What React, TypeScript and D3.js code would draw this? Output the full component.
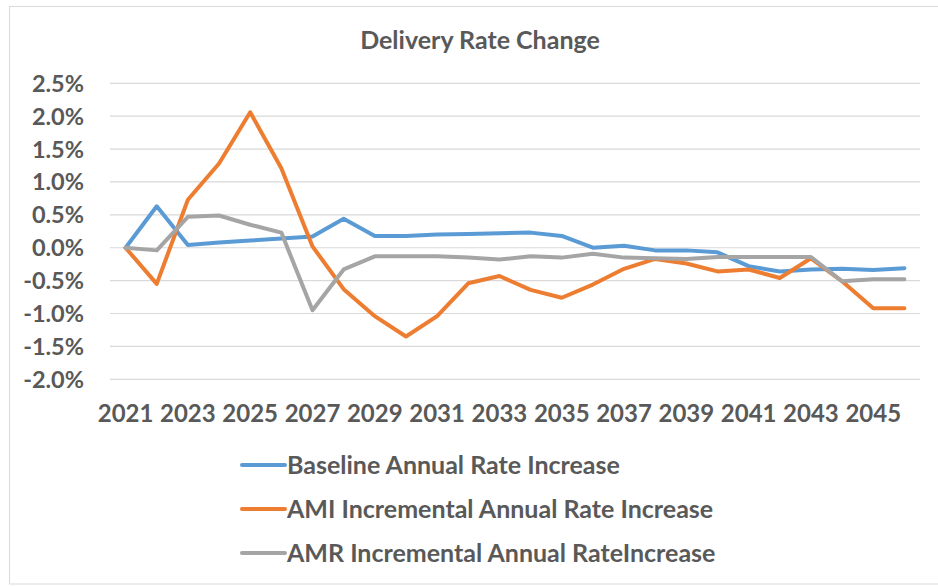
import React from "react";
import * as d3 from "d3";

const years = [
  2021, 2022, 2023, 2024, 2025, 2026, 2027, 2028, 2029, 2030, 2031, 2032, 2033,
  2034, 2035, 2036, 2037, 2038, 2039, 2040, 2041, 2042, 2043, 2044, 2045, 2046,
];
const xTickLabels = [2021, 2023, 2025, 2027, 2029, 2031, 2033, 2035, 2037, 2039, 2041, 2043, 2045];
const yTicks = [-2.0, -1.5, -1.0, -0.5, 0.0, 0.5, 1.0, 1.5, 2.0, 2.5];

const baseline = [
  0, 0.63, 0.04, 0.08, 0.11, 0.14, 0.17, 0.44, 0.18, 0.18, 0.2, 0.21, 0.22,
  0.23, 0.18, 0.0, 0.03, -0.04, -0.04, -0.07, -0.28, -0.36, -0.33, -0.32, -0.34, -0.31,
];
const ami = [
  0, -0.55, 0.73, 1.28, 2.06, 1.21, 0.02, -0.63, -1.04, -1.35, -1.04, -0.54, -0.43,
  -0.64, -0.76, -0.56, -0.32, -0.17, -0.24, -0.36, -0.33, -0.46, -0.16, -0.51, -0.92, -0.92,
];
const amr = [
  0, -0.04, 0.47, 0.49, 0.35, 0.23, -0.95, -0.33, -0.13, -0.13, -0.13, -0.15, -0.18,
  -0.13, -0.15, -0.09, -0.15, -0.16, -0.17, -0.14, -0.14, -0.14, -0.14, -0.51, -0.48, -0.48,
];

const seriesNames = [
  "Baseline Annual Rate Increase",
  "AMI Incremental Annual Rate Increase",
  "AMR Incremental Annual RateIncrease",
];
const seriesColors = ["#5B9BD5", "#ED7D31", "#A5A5A5"];
const seriesValues = [baseline, ami, amr];

const FONT = "Lato, 'Open Sans', sans-serif";
const TEXT = "#595959";

const fmtPct = (t: number) => d3.format(".1f")(t).replace("\u2212", "-") + "%";

export default function App() {
  const x = d3
    .scaleBand<number>()
    .domain(years)
    .range([110, 920]);
  const y = d3.scaleLinear().domain([-2.0, 2.5]).range([379.3, 83.3]);
  const cx = (yr: number) => (x(yr) as number) + x.bandwidth() / 2;

  const line = d3
    .line<number>()
    .x((_, i) => cx(years[i]))
    .y((v) => y(v));

  return (
    <svg
      width={938}
      height={586}
      style={{ position: "absolute", left: 0, top: 0, background: "#fff" }}
    >
      <rect x={9.5} y={6.5} width={940} height={577.5} fill="#fff" stroke="#d9d9d9" strokeWidth={1} />
      <text
        x={480}
        y={40}
        dy="0.36em"
        textAnchor="middle"
        fontFamily={FONT}
        fontWeight="bold"
        fontSize={25}
        fill={TEXT}
      >
        Delivery Rate Change
      </text>

      {yTicks.map((t) => (
        <g key={t}>
          <line x1={110} x2={920} y1={y(t)} y2={y(t)} stroke="#d9d9d9" strokeWidth={1.2} />
          <text
            x={84}
            y={y(t)}
            dy="0.36em"
            textAnchor="end"
            fontFamily={FONT}
            fontWeight="bold"
            fontSize={23.5}
            fill={TEXT}
          >
            {fmtPct(t)}
          </text>
        </g>
      ))}

      {xTickLabels.map((yr) => (
        <text
          key={yr}
          x={cx(yr)}
          y={413}
          dy="0.36em"
          textAnchor="middle"
          fontFamily={FONT}
          fontWeight="bold"
          fontSize={24}
          fill={TEXT}
        >
          {yr}
        </text>
      ))}

      {seriesValues.map((vals, i) => (
        <path
          key={i}
          d={line(vals) || ""}
          fill="none"
          stroke={seriesColors[i]}
          strokeWidth={4}
          strokeLinejoin="round"
          strokeLinecap="round"
        />
      ))}

      {seriesNames.map((name, i) => (
        <g key={name} transform={`translate(0, ${465 + i * 44})`}>
          <line x1={242} x2={285} y1={0} y2={0} stroke={seriesColors[i]} strokeWidth={4} strokeLinecap="round" />
          <text
            x={287}
            y={0}
            dy="0.36em"
            fontFamily={FONT}
            fontWeight="bold"
            fontSize={25}
            fill={TEXT}
          >
            {name}
          </text>
        </g>
      ))}
    </svg>
  );
}
